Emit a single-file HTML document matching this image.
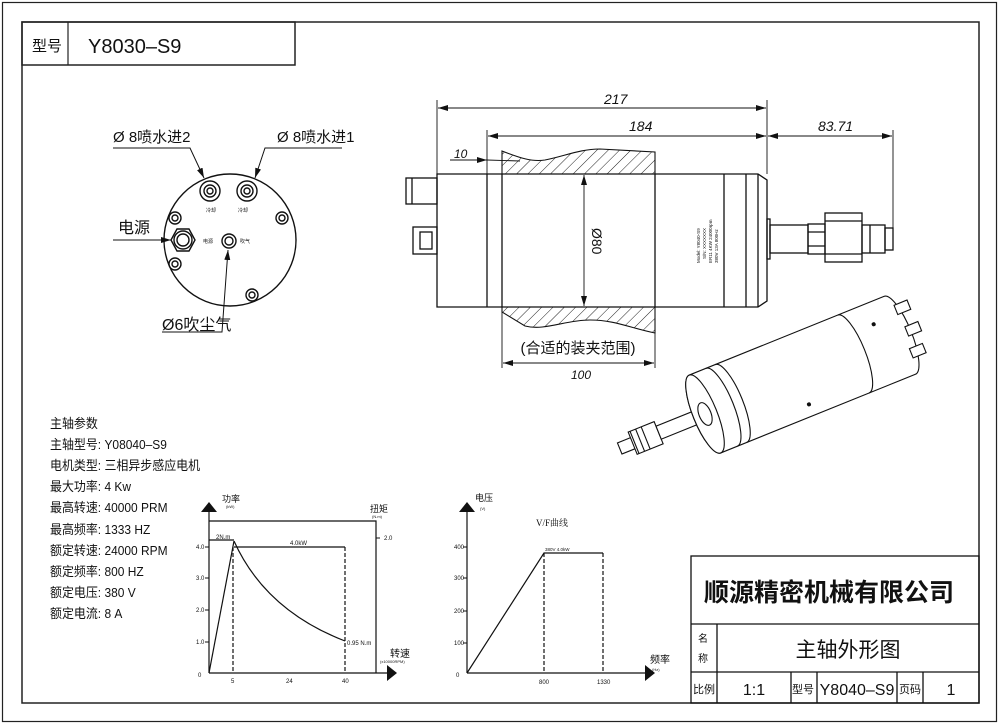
<!DOCTYPE html>
<html><head><meta charset="utf-8"><style>
html,body{margin:0;padding:0;background:#fff}
svg{display:block}
text{font-family:"Liberation Sans","Noto Sans CJK SC",sans-serif;fill:#111}
.s{font-family:"Liberation Serif","Noto Serif CJK SC",serif}
</style></head><body>
<svg width="1000" height="724" viewBox="0 0 1000 724" xmlns="http://www.w3.org/2000/svg">
<defs>
<pattern id="h" patternUnits="userSpaceOnUse" width="8" height="8" patternTransform="rotate(45)">
<line x1="0" y1="0" x2="0" y2="8" stroke="#222" stroke-width="1"/></pattern>
<marker id="a" viewBox="0 0 10 6" refX="10" refY="3" markerWidth="10" markerHeight="6" orient="auto" markerUnits="userSpaceOnUse"><path d="M0,0L10,3L0,6z" fill="#111"/></marker>
<marker id="b" viewBox="0 0 10 6" refX="0" refY="3" markerWidth="10" markerHeight="6" orient="auto" markerUnits="userSpaceOnUse"><path d="M10,0L0,3L10,6z" fill="#111"/></marker>
<marker id="big" viewBox="0 0 10 16" refX="0" refY="8" markerWidth="10" markerHeight="16" orient="auto" markerUnits="userSpaceOnUse"><path d="M0,0L10,8L0,16z" fill="#111"/></marker>
</defs>
<g fill="none" stroke="#222" stroke-width="1.2">
<rect x="2.5" y="2.5" width="994" height="719"/>
<rect x="22" y="22" width="957" height="681" stroke-width="1.5"/>
<rect x="22" y="22" width="273" height="43" stroke-width="1.5"/>
<line x1="68" y1="22" x2="68" y2="65"/>
</g>
<text x="32" y="51" font-size="15">型号</text>
<text x="88" y="53" font-size="20">Y8030–S9</text>

<g fill="none" stroke="#111" stroke-width="1.4">
<circle cx="230" cy="240" r="66"/>
<circle cx="210" cy="191" r="10"/><circle cx="210" cy="191" r="6"/><circle cx="210" cy="191" r="3"/>
<circle cx="247" cy="191" r="10"/><circle cx="247" cy="191" r="6"/><circle cx="247" cy="191" r="3"/>
<circle cx="175" cy="218" r="6"/><circle cx="175" cy="218" r="3"/>
<circle cx="282" cy="218" r="6"/><circle cx="282" cy="218" r="3"/>
<circle cx="175" cy="264" r="6"/><circle cx="175" cy="264" r="3"/>
<circle cx="252" cy="295" r="6"/><circle cx="252" cy="295" r="3"/>
<polygon points="171,240 177,229 189,229 195,240 189,251 177,251"/>
<circle cx="183" cy="240" r="9"/><circle cx="183" cy="240" r="6"/>
<circle cx="229" cy="241" r="7"/><circle cx="229" cy="241" r="4"/>
<polyline points="113,148 190,148 204,178" marker-end="url(#a)" stroke-width="1"/>
<polyline points="342,148 265,148 255,178" marker-end="url(#a)" stroke-width="1"/>
<line x1="113" y1="240" x2="171" y2="240" marker-end="url(#a)" stroke-width="1"/>
<polyline points="162,332 222,332 228,250" marker-end="url(#a)" stroke-width="1"/>
</g>
<text x="113" y="142" font-size="15">Ø 8喷水进2</text>
<text x="277" y="142" font-size="15">Ø 8喷水进1</text>
<text x="118" y="233" font-size="16">电源</text>
<text x="162" y="330" font-size="16">Ø6吹尘气</text>
<g font-size="5"><text x="206" y="212">冷却</text><text x="238" y="212">冷却</text><text x="203" y="243">电源</text><text x="240" y="243">吹气</text></g>

<g fill="url(#h)" stroke="#111" stroke-width="1.1">
<path d="M502,151 C520,158 532,162 545,160 C565,156 580,149 600,149 L655,152 L655,174 L502,174Z"/>
<path d="M502,307 L655,307 L655,333 C630,328 615,320 590,320 C565,320 545,331 525,326 L502,312Z"/>
</g>
<g fill="none" stroke="#111" stroke-width="1.3">
<path d="M437,174 L758,174 L767,180 L767,301 L758,307 L437,307Z"/>
<line x1="487" y1="174" x2="487" y2="307"/>
<line x1="502" y1="174" x2="502" y2="307"/>
<line x1="655" y1="174" x2="655" y2="307"/>
<line x1="724" y1="174" x2="724" y2="307"/>
<line x1="746" y1="174" x2="746" y2="307"/>
<line x1="758" y1="174" x2="758" y2="307"/>
<rect x="406" y="178" width="31" height="26"/><line x1="412" y1="178" x2="412" y2="204"/>
<rect x="413" y="227" width="24" height="27"/><rect x="420" y="232" width="12" height="17"/>
<rect x="767" y="219" width="3" height="40"/>
<rect x="770" y="225" width="38" height="28"/>
<rect x="808" y="224" width="17" height="30"/><line x1="808" y1="232" x2="825" y2="232"/><line x1="808" y1="246" x2="825" y2="246"/>
<rect x="825" y="213" width="37" height="49"/><line x1="825" y1="221" x2="862" y2="221"/><line x1="825" y1="254" x2="862" y2="254"/>
<rect x="862" y="225" width="23" height="28"/><line x1="870" y1="225" x2="870" y2="253"/>
<rect x="885" y="228" width="8" height="22"/>
</g>
<g fill="none" stroke="#111" stroke-width="0.9">
<line x1="437" y1="100" x2="437" y2="174"/>
<line x1="487" y1="130" x2="487" y2="174"/>
<line x1="767" y1="100" x2="767" y2="174"/>
<line x1="893" y1="130" x2="893" y2="228"/>
<line x1="438" y1="108" x2="766" y2="108" marker-start="url(#b)" marker-end="url(#a)"/>
<line x1="488" y1="136" x2="766" y2="136" marker-start="url(#b)" marker-end="url(#a)"/>
<line x1="768" y1="136" x2="892" y2="136" marker-start="url(#b)" marker-end="url(#a)"/>
<line x1="450" y1="160" x2="487" y2="160" marker-end="url(#a)"/>
<line x1="487" y1="160" x2="520" y2="161"/>
<line x1="584" y1="175" x2="584" y2="306" marker-start="url(#b)" marker-end="url(#a)"/>
<line x1="502" y1="307" x2="502" y2="368"/>
<line x1="655" y1="333" x2="655" y2="368"/>
<line x1="503" y1="363" x2="654" y2="363" marker-start="url(#b)" marker-end="url(#a)"/>
</g>
<g font-size="14" font-style="italic">
<text x="604" y="104">217</text><text x="629" y="131">184</text><text x="818" y="131">83.71</text>
<text x="454" y="158" font-size="12">10</text><text x="571" y="379" font-size="12">100</text>
</g>
<text x="0" y="0" font-size="14" transform="translate(592,228) rotate(90)">Ø80</text>
<text x="578" y="353" font-size="15" text-anchor="middle">(合适的装夹范围)</text>
<g font-size="4.5" transform="translate(700,263) rotate(-90)">
<text x="0" y="0">Model: Y8040-S9</text><text x="4" y="6">S/N: XXXXXXX</text><text x="0" y="12">ER11  4KW  24000rpm</text><text x="0" y="18">380V  13A  800Hz</text></g>

<g transform="translate(705,414) rotate(-22)" fill="#fff" stroke="#111" stroke-width="1.1">
<rect x="-92" y="-6" width="16" height="12"/>
<rect x="-78" y="-12" width="28" height="24"/>
<line x1="-76" y1="-12" x2="-76" y2="12"/><line x1="-70" y1="-12" x2="-70" y2="12"/><line x1="-64" y1="-12" x2="-64" y2="12"/>
<rect x="-50" y="-7" width="50" height="14"/>
<path d="M0,-42 L210,-42 A12,42 0 0 1 210,42 L0,42 A12,42 0 0 1 0,-42Z"/>
<path d="M18,-42 A12,42 0 0 1 18,42" fill="none"/>
<path d="M28,-42 A12,42 0 0 1 28,42" fill="none"/>
<path d="M160,-42 A12,42 0 0 1 160,42" fill="none"/>
<ellipse cx="0" cy="0" rx="12" ry="42"/>
<ellipse cx="0" cy="0" rx="6" ry="12"/>
<rect x="216" y="-30" width="14" height="10"/><rect x="218" y="-6" width="14" height="10"/><rect x="214" y="16" width="14" height="10"/>
<circle cx="100" cy="30" r="1.5" fill="#111"/><circle cx="190" cy="-20" r="1.5" fill="#111"/>
</g>

<g font-size="13" transform="translate(50,0) scale(0.92,1) translate(-50,0)">
<text x="50" y="428">主轴参数</text>
<text x="50" y="449">主轴型号: Y08040–S9</text>
<text x="50" y="470">电机类型: 三相异步感应电机</text>
<text x="50" y="491">最大功率: 4 Kw</text>
<text x="50" y="512">最高转速: 40000 PRM</text>
<text x="50" y="534">最高频率: 1333 HZ</text>
<text x="50" y="555">额定转速: 24000 RPM</text>
<text x="50" y="576">额定频率: 800 HZ</text>
<text x="50" y="597">额定电压: 380 V</text>
<text x="50" y="618">额定电流: 8 A</text>
</g>

<g fill="none" stroke="#111" stroke-width="1.2">
<line x1="209" y1="673" x2="209" y2="512" marker-end="url(#big)"/>
<line x1="209" y1="673" x2="387" y2="673" marker-end="url(#big)"/>
<polyline points="209,521 376,521 376,673"/>
<line x1="209" y1="540" x2="234" y2="540"/>
<line x1="234" y1="547" x2="345" y2="547"/>
<line x1="209" y1="673" x2="234" y2="541"/>
<path d="M234,541 Q265,610 345,641"/>
<line x1="233" y1="547" x2="233" y2="673" stroke-dasharray="4,2"/>
<line x1="345" y1="547" x2="345" y2="673" stroke-dasharray="4,2"/>
<g stroke-width="1"><line x1="205" y1="547" x2="209" y2="547"/><line x1="205" y1="578" x2="209" y2="578"/><line x1="205" y1="610" x2="209" y2="610"/><line x1="205" y1="642" x2="209" y2="642"/><line x1="376" y1="538" x2="380" y2="538"/></g>
</g>
<g class="s" font-size="6">
<text x="196" y="549">4.0</text><text x="196" y="580">3.0</text><text x="196" y="612">2.0</text><text x="196" y="644">1.0</text><text x="198" y="677">0</text>
<text x="231" y="683">5</text><text x="286" y="683">24</text><text x="342" y="683">40</text>
<text x="384" y="540">2.0</text><text x="216" y="539">2N.m</text><text x="290" y="545">4.0kW</text>
<text x="347" y="645">0.95 N.m</text><text x="226" y="508" font-size="4">(kW)</text><text x="372" y="518" font-size="4">(N.m)</text>
<text x="380" y="663" font-size="4">(x10000RPM)</text>
</g>
<text x="222" y="502" font-size="9">功率</text>
<text x="370" y="512" font-size="9">扭矩</text>
<text x="390" y="657" font-size="10">转速</text>

<g fill="none" stroke="#111" stroke-width="1.2">
<line x1="467" y1="673" x2="467" y2="512" marker-end="url(#big)"/>
<line x1="467" y1="673" x2="645" y2="673" marker-end="url(#big)"/>
<polyline points="467,673 544,553 603,553"/>
<line x1="544" y1="553" x2="544" y2="673" stroke-dasharray="4,2"/>
<line x1="603" y1="553" x2="603" y2="673" stroke-dasharray="4,2"/>
<g stroke-width="1"><line x1="463" y1="547" x2="467" y2="547"/><line x1="463" y1="578" x2="467" y2="578"/><line x1="463" y1="611" x2="467" y2="611"/><line x1="463" y1="643" x2="467" y2="643"/></g>
</g>
<g class="s" font-size="6">
<text x="454" y="549">400</text><text x="454" y="580">300</text><text x="454" y="613">200</text><text x="454" y="645">100</text><text x="456" y="677">0</text>
<text x="539" y="684">800</text><text x="597" y="684">1330</text><text x="545" y="551" font-size="4.5">380V 4.0kW</text>
<text x="480" y="510" font-size="4">(V)</text><text x="652" y="671" font-size="4">(Hz)</text>
</g>
<text x="475" y="501" font-size="9">电压</text>
<text x="536" y="526" font-size="9" class="s">V/F曲线</text>
<text x="650" y="663" font-size="10">频率</text>

<g fill="none" stroke="#111" stroke-width="1.3">
<rect x="691" y="556" width="288" height="147"/>
<line x1="691" y1="624" x2="979" y2="624"/>
<line x1="691" y1="672" x2="979" y2="672"/>
<line x1="717" y1="624" x2="717" y2="703"/>
<line x1="791" y1="672" x2="791" y2="703"/><line x1="817" y1="672" x2="817" y2="703"/>
<line x1="897" y1="672" x2="897" y2="703"/><line x1="923" y1="672" x2="923" y2="703"/>
</g>
<text x="829" y="601" font-size="25" font-weight="bold" text-anchor="middle">顺源精密机械有限公司</text>
<text x="848" y="657" font-size="21" text-anchor="middle">主轴外形图</text>
<text x="698" y="642" font-size="10">名</text><text x="698" y="662" font-size="10">称</text>
<text x="693" y="693" font-size="11">比例</text>
<text x="754" y="695" font-size="16" text-anchor="middle">1:1</text>
<text x="792" y="693" font-size="11">型号</text>
<text x="857" y="695" font-size="16" text-anchor="middle">Y8040–S9</text>
<text x="899" y="693" font-size="11">页码</text>
<text x="951" y="695" font-size="16" text-anchor="middle">1</text>
</svg>
</body></html>
